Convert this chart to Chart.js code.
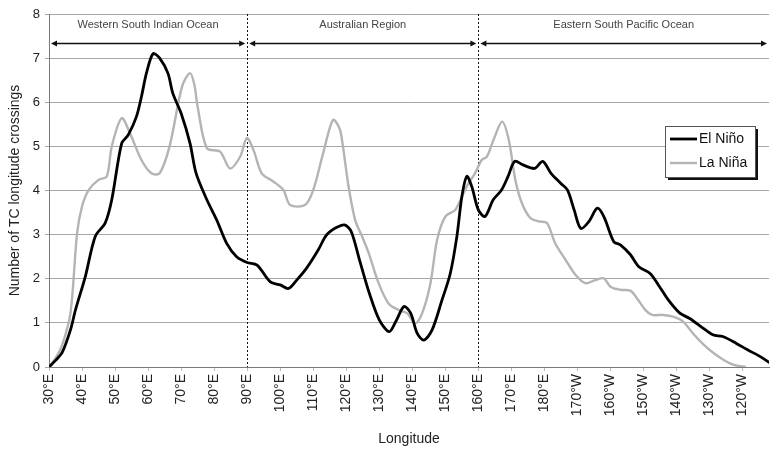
<!DOCTYPE html>
<html>
<head>
<meta charset="utf-8">
<script src="https://cdn.jsdelivr.net/npm/chart.js@4.4.0/dist/chart.umd.min.js"></script>
<style>
html, body { margin: 0; padding: 0; background: #fff; }
#wrap { width: 770px; height: 452px; }
</style>
</head>
<body>
<div id="wrap"><canvas id="mycanvas" width="770" height="452"></canvas></div>
<script>
// longitudes in degrees east (values past 180 are west longitudes)
var elNinoLon = [30, 32, 34, 36.5, 38, 41, 44, 47, 49, 52, 54, 56.5, 58, 59.5, 61.5, 63.5, 66, 67.5, 70, 72.7,
  74.5, 77.8, 80.8, 83.8, 86.8, 90, 93, 97, 100, 102.5, 105, 108, 111.5, 114, 117, 119.5, 121.5, 124, 127, 130,
  133, 135, 137.5, 139.5, 141.5, 143.5, 146, 149, 151.5, 153.5, 155, 156.5, 158, 160, 162, 164.5, 167, 169, 171, 173.5,
  177, 179.5, 182, 185, 187, 189, 191, 193.5, 196, 198, 201, 203, 206, 208.5, 212, 214.5, 217.5, 221, 224, 227.5,
  231, 234, 238, 241.5, 245.5, 248.5];
var elNinoVal = [0, 0.15, 0.33, 0.84, 1.29, 2.05, 2.96, 3.26, 3.79, 5.07, 5.26, 5.68, 6.13, 6.66, 7.1, 7.0, 6.66, 6.2, 5.75, 5.07,
  4.4, 3.79, 3.33, 2.8, 2.5, 2.37, 2.31, 1.93, 1.86, 1.78, 1.97, 2.24, 2.65, 2.99, 3.16, 3.22, 3.07, 2.43, 1.67, 1.07,
  0.8, 1.03, 1.37, 1.22, 0.76, 0.61, 0.84, 1.52, 2.12, 2.96, 3.86, 4.32, 4.09, 3.56, 3.41, 3.79, 4.01, 4.32, 4.66, 4.58,
  4.5, 4.66, 4.39, 4.16, 4.01, 3.56, 3.14, 3.3, 3.6, 3.41, 2.84, 2.77, 2.55, 2.28, 2.12, 1.86, 1.52, 1.22, 1.1, 0.91,
  0.73, 0.69, 0.54, 0.39, 0.23, 0.08];

var laNinaLon = [30.5, 32, 34, 36.5, 38.5, 40, 42, 45, 47.5, 49, 52, 54.5, 58, 61, 63.5, 66.5, 70.3, 72.7, 74, 75,
  77.8, 81.8, 84.8, 87.9, 89.9, 91.9, 94.4, 98, 101, 103, 107.5, 110, 113, 116, 118, 119, 120.7, 122.7, 124.8, 126.8,
  129.8, 132.8, 135.9, 138.4, 140.9, 143, 145.5, 147.5, 150, 153, 155, 157, 159, 161, 162.6, 164.6, 167.2, 169.2, 171.2, 173.2,
  175.8, 178.3, 180.8, 183.3, 186.4, 189.4, 192.4, 195.4, 198, 200, 203, 206, 208, 210.6, 212.6, 216, 219, 222, 225, 228.3,
  231.3, 234.3, 237.3, 241];
var laNinaVal = [0.05, 0.2, 0.5, 1.22, 3.03, 3.64, 4.01, 4.24, 4.32, 5.0, 5.64, 5.3, 4.69, 4.39, 4.39, 5.0, 6.36, 6.66, 6.4, 5.9,
  4.96, 4.88, 4.5, 4.77, 5.19, 4.92, 4.39, 4.2, 4.01, 3.67, 3.67, 4.01, 4.84, 5.6, 5.4, 5.0, 4.09, 3.33, 2.96, 2.58,
  1.9, 1.44, 1.29, 1.22, 0.99, 1.22, 1.9, 2.88, 3.41, 3.56, 3.86, 4.16, 4.39, 4.69, 4.77, 5.15, 5.56, 5.15, 4.24, 3.71,
  3.37, 3.3, 3.26, 2.8, 2.43, 2.09, 1.9, 1.97, 2.01, 1.82, 1.75, 1.73, 1.56, 1.29, 1.18, 1.18, 1.14, 1.03, 0.76, 0.5,
  0.31, 0.16, 0.05, 0];

var regionNames = ['Western South Indian Ocean', 'Australian Region', 'Eastern South Pacific Ocean'];
var regionBounds = [30, 90, 160, 248];
var arrowLevel = 7.35;
var regionTextLevel = 7.75;

var fontFam = '"Liberation Sans", Arial, sans-serif';

function toPoints(lon, val) {
  var pts = [];
  for (var i = 0; i < lon.length; i++) pts.push({x: lon[i], y: val[i]});
  return pts;
}

function lonLabel(v) {
  if (v <= 180) return v + '°E';
  return (360 - v) + '°W';
}

function arrowHead(ctx, x, y, dir) {
  ctx.beginPath();
  ctx.moveTo(x, y);
  ctx.lineTo(x - dir * 6, y - 3);
  ctx.lineTo(x - dir * 6, y + 3);
  ctx.closePath();
  ctx.fill();
}

var regionPlugin = {
  id: 'regions',
  beforeDatasetsDraw: function(chart) {
    var ctx = chart.ctx, xs = chart.scales.x, ys = chart.scales.y, area = chart.chartArea;
    ctx.save();
    // dotted boundaries
    ctx.strokeStyle = '#111';
    ctx.lineWidth = 1;
    ctx.setLineDash([2, 2]);
    for (var i = 1; i < regionBounds.length - 1; i++) {
      var bx = Math.round(xs.getPixelForValue(regionBounds[i])) + 0.5;
      ctx.beginPath();
      ctx.moveTo(bx, area.top);
      ctx.lineTo(bx, area.bottom);
      ctx.stroke();
    }
    ctx.setLineDash([]);
    // arrows + names
    var ay = Math.round(ys.getPixelForValue(arrowLevel)) + 0.5;
    var ty = ys.getPixelForValue(regionTextLevel);
    ctx.fillStyle = '#111';
    ctx.strokeStyle = '#111';
    ctx.lineWidth = 1.5;
    for (var j = 0; j < regionNames.length; j++) {
      var x0 = xs.getPixelForValue(regionBounds[j]) + 2;
      var x1 = Math.min(xs.getPixelForValue(regionBounds[j + 1]), area.right) - 2;
      ctx.beginPath();
      ctx.moveTo(x0 + 4, ay);
      ctx.lineTo(x1 - 4, ay);
      ctx.stroke();
      arrowHead(ctx, x0, ay, -1);
      arrowHead(ctx, x1, ay, 1);
      ctx.save();
      ctx.fillStyle = '#444';
      ctx.font = '11px ' + fontFam;
      ctx.textAlign = 'center';
      ctx.textBaseline = 'middle';
      ctx.fillText(regionNames[j], (x0 + x1) / 2, ty);
      ctx.restore();
    }
    ctx.restore();
  },
  afterDraw: function(chart) {
    var ctx = chart.ctx, area = chart.chartArea;
    var bx = area.right - 104, by = 126, bw = 90, bh = 51;
    ctx.save();
    ctx.fillStyle = '#111';
    ctx.fillRect(bx + 3, by + 3, bw, bh);
    ctx.fillStyle = '#fff';
    ctx.fillRect(bx, by, bw, bh);
    ctx.strokeStyle = '#555';
    ctx.lineWidth = 1;
    ctx.strokeRect(bx + 0.5, by + 0.5, bw, bh);
    var ds = chart.data.datasets;
    ctx.font = '14px ' + fontFam;
    ctx.textBaseline = 'middle';
    for (var i = 0; i < ds.length; i++) {
      var ly = by + 13 + i * 24;
      ctx.strokeStyle = ds[i].borderColor;
      ctx.lineWidth = ds[i].borderWidth;
      ctx.beginPath();
      ctx.moveTo(bx + 5, ly);
      ctx.lineTo(bx + 32, ly);
      ctx.stroke();
      ctx.fillStyle = '#111';
      ctx.fillText(ds[i].label, bx + 34, ly);
    }
    ctx.restore();
  }
};

var ctx = document.getElementById('mycanvas');

var chart = new Chart(ctx, {
  type: 'line',
  data: {
    datasets: [
      {
        label: 'El Niño',
        data: toPoints(elNinoLon, elNinoVal),
        borderColor: '#000000',
        borderWidth: 2.8,
        pointRadius: 0,
        tension: 0.3,
        fill: false
      }, {
        label: 'La Niña',
        data: toPoints(laNinaLon, laNinaVal),
        borderColor: '#b4b4b4',
        borderWidth: 2.4,
        pointRadius: 0,
        tension: 0.3,
        fill: false
      }
    ]
  },
  options: {
    responsive: false,
    animation: false,
    devicePixelRatio: 1,
    layout: { padding: { top: 14, right: 1, left: 0, bottom: 0 } },
    plugins: { legend: { display: false }, tooltip: { enabled: false } },
    scales: {
      x: {
        type: 'linear',
        min: 30,
        max: 248,
        afterFit: function(scale) { scale.height = 85; },
        ticks: {
          stepSize: 10,
          includeBounds: false,
          autoSkip: false,
          maxRotation: 90,
          minRotation: 90,
          padding: 3,
          color: '#222',
          font: { family: fontFam, size: 14 },
          callback: function(v) { return lonLabel(v); }
        },
        grid: { drawOnChartArea: false, tickLength: 4, color: '#bbbbbb' },
        border: { color: '#7a7a7a' },
        title: {
          display: true,
          text: 'Longitude',
          color: '#222',
          font: { family: fontFam, size: 14 },
          padding: { top: 0, bottom: 4 }
        }
      },
      y: {
        min: 0,
        max: 8,
        afterFit: function(scale) { scale.width = 49; },
        ticks: {
          stepSize: 1,
          padding: 5,
          color: '#222',
          font: { family: fontFam, size: 13 }
        },
        grid: { color: '#a6a6a6', lineWidth: 1, tickLength: 4 },
        border: { color: '#7a7a7a' },
        title: {
          display: true,
          text: 'Number of TC longitude crossings',
          color: '#222',
          font: { family: fontFam, size: 14 },
          padding: { top: 7, bottom: 0 }
        }
      }
    }
  },
  plugins: [regionPlugin]
});
</script>
</body>
</html>
